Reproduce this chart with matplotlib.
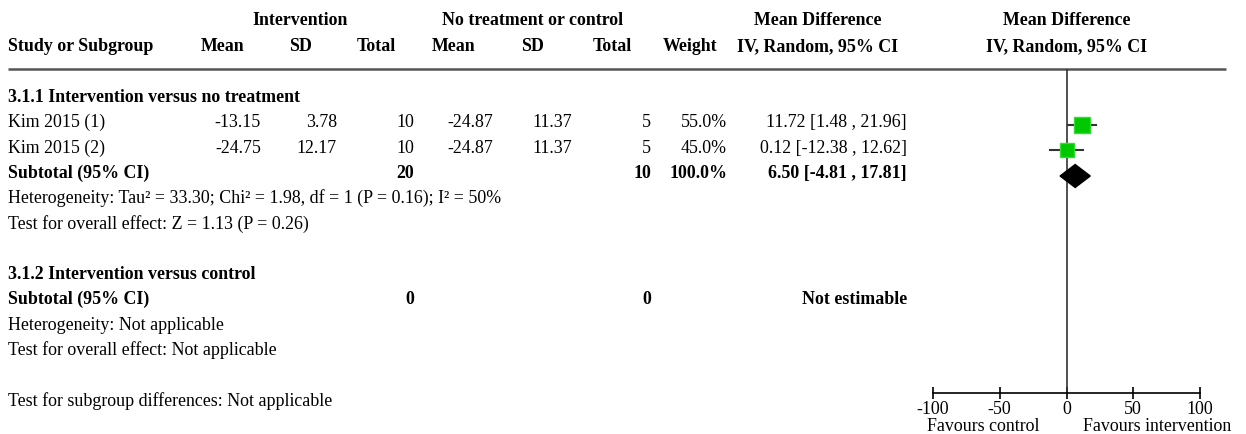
import matplotlib
matplotlib.use('Agg')
import matplotlib.pyplot as plt

# study rows
studies = ['Kim 2015 (1)', 'Kim 2015 (2)']
int_mean = [-13.15, -24.75]
int_sd = [3.78, 12.17]
int_n = [10, 10]
ctl_mean = [-24.87, -24.87]
ctl_sd = [11.37, 11.37]
ctl_n = [5, 5]
weights = [55.0, 45.0]
md = [11.72, 0.12]
ci_lo = [1.48, -12.38]
ci_hi = [21.96, 12.62]

# subtotal 3.1.1
sub_int_n, sub_ctl_n = 20, 10
sub_weight = 100.0
sub_md, sub_lo, sub_hi = 6.50, -4.81, 17.81

# subtotal 3.1.2
sub2_int_n, sub2_ctl_n = 0, 0

axis_ticks = [-100, -50, 0, 50, 100]

plt.rcParams['font.family'] = ['Liberation Serif', 'DejaVu Serif']
FS = 12.9

fig = plt.figure(figsize=(12.46, 4.34), dpi=100)
ax = fig.add_axes([0, 0, 1, 1])
ax.set_xlim(0, 1246)
ax.set_ylim(434, 0)
ax.axis('off')


def t(x, y, s, ha='left', bold=False):
    ax.text(x, y, s, ha=ha, va='baseline', fontsize=FS,
            fontweight='bold' if bold else 'normal', color='black')


# header
t(300, 25, 'Intervention', 'center', True)
t(533, 25, 'No treatment or control', 'center', True)
t(818, 25, 'Mean Difference', 'center', True)
t(1067, 25, 'Mean Difference', 'center', True)
t(8, 51, 'Study or Subgroup', 'left', True)
for x, s in [(223, 'Mean'), (300, 'SD'), (376, 'Total'), (454, 'Mean'),
             (533, 'SD'), (612, 'Total'), (690, 'Weight'),
             (818, 'IV, Random, 95% CI'), (1067, 'IV, Random, 95% CI')]:
    t(x, 51, s, 'center', True)
ax.plot([8, 1226], [69, 69], color='#555555', lw=1.8, solid_capstyle='butt')

# column right edges
cols = [261, 337, 414, 493, 572, 651, 727, 907]

t(8, 102, '3.1.1 Intervention versus no treatment', bold=True)
rows = [127, 153]
for i, yb in enumerate(rows):
    t(8, yb, studies[i])
    vals = [f'{int_mean[i]:.2f}', f'{int_sd[i]:.2f}', f'{int_n[i]}',
            f'{ctl_mean[i]:.2f}', f'{ctl_sd[i]:.2f}', f'{ctl_n[i]}',
            f'{weights[i]:.1f}%',
            f'{md[i]:.2f} [{ci_lo[i]:.2f} , {ci_hi[i]:.2f}]']
    for x, s in zip(cols, vals):
        t(x, yb, s, 'right')

t(8, 178, 'Subtotal (95% CI)', bold=True)
t(cols[2], 178, f'{sub_int_n}', 'right', True)
t(cols[5], 178, f'{sub_ctl_n}', 'right', True)
t(cols[6], 178, f'{sub_weight:.1f}%', 'right', True)
t(cols[7], 178, f'{sub_md:.2f} [{sub_lo:.2f} , {sub_hi:.2f}]', 'right', True)
t(8, 203, 'Heterogeneity: Tau² = 33.30; Chi² = 1.98, df = 1 (P = 0.16); I² = 50%')
t(8, 229, 'Test for overall effect: Z = 1.13 (P = 0.26)')

t(8, 279, '3.1.2 Intervention versus control', bold=True)
t(8, 304, 'Subtotal (95% CI)', bold=True)
t(cols[2], 304, f'{sub2_int_n}', 'right', True)
t(cols[5], 304, f'{sub2_ctl_n}', 'right', True)
t(cols[7], 304, 'Not estimable', 'right', True)
t(8, 330, 'Heterogeneity: Not applicable')
t(8, 355, 'Test for overall effect: Not applicable')

t(8, 406, 'Test for subgroup differences: Not applicable')

# forest panel
fx = fig.add_axes([933 / 1246, 0, 267 / 1246, 1])
fx.patch.set_visible(False)
fx.set_xlim(-100, 100)
fx.set_ylim(434, 0)
for s in ['top', 'left', 'right']:
    fx.spines[s].set_visible(False)
fx.spines['bottom'].set_position(('data', 393))
fx.spines['bottom'].set_linewidth(1.2)
fx.set_yticks([])
fx.set_xticks(axis_ticks)
fx.set_xticklabels([str(v) for v in axis_ticks])
fx.tick_params(axis='x', direction='inout', length=9, width=1.2, pad=1,
               labelsize=FS)

fx.vlines(0, 69, 393, color='#333333', lw=1.2)

mark_y = [125, 150]
for i, y in enumerate(mark_y):
    fx.plot([ci_lo[i], ci_hi[i]], [y, y], color='#333333', lw=1.5, zorder=2)
    fx.plot(md[i], y, marker='s', color='#00c800', mec='#33dd33',
            ms=4 + weights[i] * 0.13, zorder=3)

dy = 11.5
fx.fill([sub_lo, sub_md, sub_hi, sub_md], [176, 176 - dy, 176, 176 + dy],
        color='black', zorder=3)

ax.text(983, 431, 'Favours control', ha='center', va='baseline', fontsize=FS)
ax.text(1157, 431, 'Favours intervention', ha='center', va='baseline', fontsize=FS)

fig.savefig('out.png', dpi=100)
